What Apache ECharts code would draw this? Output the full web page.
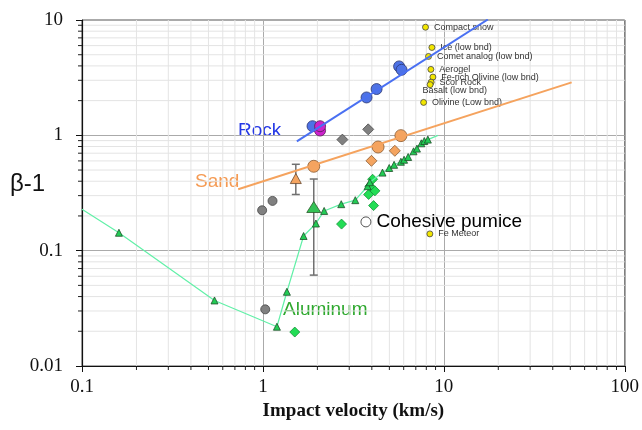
<!DOCTYPE html>
<html>
<head>
<meta charset="utf-8">
<script src="https://cdn.jsdelivr.net/npm/echarts@6/dist/echarts.min.js"></script>
<style>html,body{margin:0;padding:0;background:#fff;}#c{width:642px;height:430px;}</style>
</head>
<body>
<div id="c"></div>
<script>
// ---- data ----
const xTicks = [0.1, 1, 10, 100];
const yTicks = [0.01, 0.1, 1, 10];
const xMinor = [0.2,0.3,0.4,0.5,0.6,0.7,0.8,0.9,2,3,4,5,6,7,8,9,20,30,40,50,60,70,80,90];
const yMinor = [0.02,0.03,0.04,0.05,0.06,0.07,0.08,0.09,0.2,0.3,0.4,0.5,0.6,0.7,0.8,0.9,2,3,4,5,6,7,8,9];

const rockLine = [[1.54, 0.887], [17.5, 10.1]];
const sandLine = [[0.73, 0.341], [50.9, 2.88]];

const rockCircles = [[1.88, 1.20], [3.74, 2.13], [4.25, 2.52], [5.66, 3.96], [5.84, 3.70]];
const magentaCircles = [[2.07, 1.10], [2.07, 1.20]];
const grayDiamonds = [[2.75, 0.918], [3.82, 1.127]];
const grayCircles = [[0.99, 0.224], [1.13, 0.270], [1.03, 0.031]];
const sandCircles = [[1.91, 0.539], [4.33, 0.792], [5.79, 0.994]];
const sandDiamonds = [[5.36, 0.734], [3.98, 0.601]];
const sandTriangle = [[1.52, 0.422]];
const sandError = [[1.52, 0.307, 0.561]];
const alBigTriangle = [[1.91, 0.239]];
const alError = [[1.91, 0.0614, 0.418]];
const alDiamonds = [[1.50, 0.0197], [2.72, 0.170], [4.09, 0.246], [3.84, 0.307], [4.16, 0.330], [4.04, 0.416], [3.90, 0.362]];
const alLine = [[0.1, 0.229], [0.16, 0.143], [0.54, 0.037], [1.195, 0.0219], [1.357, 0.044], [1.678, 0.134],
  [1.963, 0.172], [2.18, 0.221], [2.71, 0.253], [3.24, 0.274], [3.79, 0.362], [3.90, 0.392], [4.58, 0.475],
  [4.99, 0.521], [5.31, 0.555], [5.79, 0.59], [6.03, 0.614], [6.35, 0.649], [6.80, 0.727], [7.10, 0.767],
  [7.51, 0.853], [7.80, 0.893], [8.16, 0.918], [9.28, 1.0]];
const alLineNoMarker = [0, 23];
const pumice = [[3.71, 0.1776]];
const pumiceName = 'Cohesive pumice';
const yellowPoints = [[7.92, 8.66], [8.59, 5.78], [8.23, 4.83], [8.48, 3.73], [8.70, 3.20], [8.51, 2.89], [8.40, 2.75], [7.73, 1.93], [8.37, 0.1398]];
const yellowNames = ['Compact snow', 'Ice (low bnd)', 'Comet analog (low bnd)', 'Aerogel', 'Fe-rich Olivine (low bnd)', 'Scor Rock', 'Basalt (low bnd)', 'Olivine (Low bnd)', 'Fe Meteor'];

// ---- chart ----
const chart = echarts.init(document.getElementById('c'), null, {renderer: 'canvas'});
const fmt = v => String(+(+v).toPrecision(6));
const serif = '"Liberation Serif", "Times New Roman", serif';
const sans = '"Liberation Sans", Arial, sans-serif';

function minorRender(isX) {
  return function (params, api) {
    const v = api.value(isX ? 0 : 1);
    let a, b, t2;
    if (isX) {
      a = api.coord([v, 0.01]); b = api.coord([v, 10]);
      t2 = [a[0], a[1] + 4];
    } else {
      a = api.coord([0.1, v]); b = api.coord([100, v]);
      t2 = [a[0] - 4, a[1]];
    }
    return {type: 'group', children: [
      {type: 'line', shape: {x1: a[0], y1: a[1], x2: b[0], y2: b[1]}, style: {stroke: '#e4e4e4', lineWidth: 1}},
      {type: 'line', shape: {x1: a[0], y1: a[1], x2: t2[0], y2: t2[1]}, style: {stroke: '#222', lineWidth: 1}}
    ]};
  };
}
function errRender(params, api) {
  const x = api.value(0);
  const lo = api.coord([x, api.value(1)]);
  const hi = api.coord([x, api.value(2)]);
  const s = {stroke: '#707070', lineWidth: 1.5};
  return {type: 'group', children: [
    {type: 'line', shape: {x1: lo[0], y1: lo[1], x2: hi[0], y2: hi[1]}, style: s},
    {type: 'line', shape: {x1: lo[0] - 4, y1: lo[1], x2: lo[0] + 4, y2: lo[1]}, style: s},
    {type: 'line', shape: {x1: hi[0] - 4, y1: hi[1], x2: hi[0] + 4, y2: hi[1]}, style: s}
  ]};
}

const option = {
  animation: false,
  backgroundColor: '#fff',
  grid: {left: 82, right: 16, top: 20, bottom: 64, show: true, borderColor: '#555', borderWidth: 1, backgroundColor: 'transparent'},
  xAxis: {
    type: 'log', logBase: 10, min: xTicks[0], max: xTicks[xTicks.length - 1],
    name: 'Impact velocity (km/s)', nameLocation: 'middle', nameGap: 33,
    nameTextStyle: {fontFamily: serif, fontWeight: 'bold', fontSize: 19, color: '#111'},
    axisLine: {lineStyle: {color: '#111', width: 1.2}},
    axisTick: {length: 6, lineStyle: {color: '#111'}},
    axisLabel: {formatter: fmt, fontFamily: serif, fontSize: 19, color: '#111', margin: 12},
    splitLine: {show: true, lineStyle: {color: '#aaaaaa', width: 1}}
  },
  yAxis: {
    type: 'log', logBase: 10, min: yTicks[0], max: yTicks[yTicks.length - 1],
    axisLine: {lineStyle: {color: '#111', width: 1.2}},
    axisTick: {length: 6, lineStyle: {color: '#111'}},
    axisLabel: {formatter: fmt, fontFamily: serif, fontSize: 19, color: '#111', margin: 19},
    splitLine: {show: true, lineStyle: {color: '#aaaaaa', width: 1}}
  },
  graphic: [
    {type: 'text', x: 10, y: 184, style: {text: 'β-1', font: '24px ' + sans, fill: '#111', verticalAlign: 'middle'}},
    {type: 'text', x: 238, y: 131, style: {text: 'Rock', font: '19px ' + sans, fill: '#2438e6', verticalAlign: 'middle'}},
    {type: 'text', x: 195, y: 182, style: {text: 'Sand', font: '19px ' + sans, fill: '#f59a52', verticalAlign: 'middle'}},
    {type: 'text', x: 283, y: 310, style: {text: 'Aluminum', font: '19px ' + sans, fill: '#2ea82e', verticalAlign: 'middle'}}
  ],
  series: [
    {type: 'custom', silent: true, z: 0, data: xMinor.map(v => [v, 1]), renderItem: minorRender(true)},
    {type: 'custom', silent: true, z: 0, data: yMinor.map(v => [1, v]), renderItem: minorRender(false)},
    {type: 'line', silent: true, symbol: 'none', data: rockLine, lineStyle: {color: '#4a70f2', width: 2}},
    {type: 'line', silent: true, symbol: 'none', data: sandLine, lineStyle: {color: '#f5a35e', width: 2}},
    {type: 'line', silent: true, data: alLine.map((p, i) => alLineNoMarker.includes(i) ? {value: p, symbol: 'none'} : {value: p}),
      symbol: 'triangle', symbolSize: 7, showAllSymbol: true,
      lineStyle: {color: '#62f0a8', width: 1.2},
      itemStyle: {color: '#22cc55', borderColor: '#1f4f2a', borderWidth: 0.8}},
    {type: 'custom', silent: true, data: sandError, renderItem: errRender},
    {type: 'custom', silent: true, data: alError, renderItem: errRender},
    {type: 'scatter', silent: true, data: rockCircles, symbol: 'circle', symbolSize: 11,
      itemStyle: {color: '#4d72e6', borderColor: '#2a3570', borderWidth: 0.8, opacity: 1}},
    {type: 'scatter', silent: true, data: magentaCircles, symbol: 'circle', symbolSize: 11,
      itemStyle: {color: '#cc22cc', borderColor: '#552255', borderWidth: 0.8, opacity: 1}},
    {type: 'scatter', silent: true, data: grayDiamonds, symbol: 'diamond', symbolSize: 11,
      itemStyle: {color: '#808080', borderColor: '#4a4a4a', borderWidth: 0.8, opacity: 1}},
    {type: 'scatter', silent: true, data: grayCircles, symbol: 'circle', symbolSize: 9,
      itemStyle: {color: '#808080', borderColor: '#444', borderWidth: 0.8, opacity: 1}},
    {type: 'scatter', silent: true, data: sandCircles, symbol: 'circle', symbolSize: 12,
      itemStyle: {color: '#f4a460', borderColor: '#8a5a30', borderWidth: 0.8, opacity: 1}},
    {type: 'scatter', silent: true, data: sandDiamonds, symbol: 'diamond', symbolSize: 11,
      itemStyle: {color: '#f4a460', borderColor: '#8a5a30', borderWidth: 0.8, opacity: 1}},
    {type: 'scatter', silent: true, data: sandTriangle, symbol: 'triangle', symbolSize: [11, 10],
      itemStyle: {color: '#f4a460', borderColor: '#6a4a30', borderWidth: 0.8, opacity: 1}},
    {type: 'scatter', silent: true, data: alBigTriangle, symbol: 'triangle', symbolSize: [14, 11],
      itemStyle: {color: '#33c255', borderColor: '#2a5a2a', borderWidth: 0.8, opacity: 1}},
    {type: 'scatter', silent: true, data: alDiamonds, symbol: 'diamond', symbolSize: 10,
      itemStyle: {color: '#22dd55', borderColor: '#16903a', borderWidth: 0.8, opacity: 1}},
    {type: 'scatter', silent: true, data: pumice.map(p => ({value: p, name: pumiceName})), symbol: 'circle', symbolSize: 10,
      itemStyle: {color: '#ffffff', borderColor: '#555', borderWidth: 1, opacity: 1},
      label: {show: true, position: 'right', distance: 5, formatter: '{b}', fontFamily: sans, fontSize: 19, color: '#000'}},
    {type: 'scatter', silent: true, data: yellowPoints.map((p, i) => {
        const d = {value: p, name: yellowNames[i]};
        if (yellowNames[i].startsWith('Basalt')) d.label = {offset: [-16, 6]};
        return d;
      }), symbol: 'circle', symbolSize: 6,
      itemStyle: {color: '#f2e600', borderColor: '#444', borderWidth: 0.8, opacity: 1},
      label: {show: true, position: 'right', distance: 5, formatter: '{b}', fontFamily: sans, fontSize: 9, color: '#333'}}
  ]
};
chart.setOption(option);
</script>
</body>
</html>
